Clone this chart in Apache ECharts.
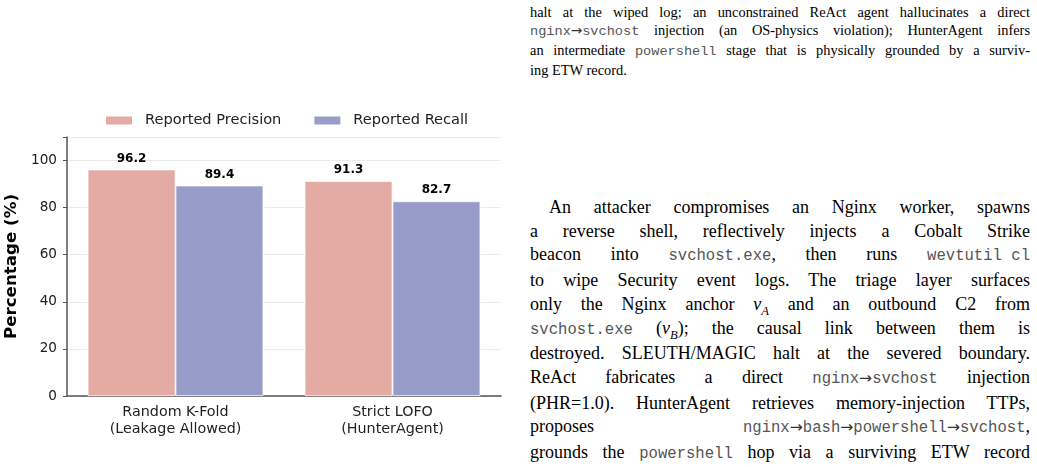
<!DOCTYPE html>
<html>
<head>
<meta charset="utf-8">
<script src="https://cdn.jsdelivr.net/npm/echarts@6/dist/echarts.min.js"></script>
<style>
  html, body { margin: 0; padding: 0; background: #fff; overflow: hidden; }
  body { width: 1037px; height: 467px; position: relative; }
  #chart { position: absolute; left: 0; top: 0; width: 520px; height: 467px; }
  .col { position: absolute; left: 530px; width: 500px; font-family: "Liberation Serif", serif; color: #000; }
  .col .ln { white-space: nowrap; text-align: justify; text-align-last: justify; }
  .col .ln.last { text-align-last: left; }
  .cap { top: 3px; font-size: 14.4px; line-height: 18px; }
  .body { top: 196px; font-size: 18px; line-height: 23.7px; }
  .mono { font-family: "Liberation Mono", monospace; color: #555; }
  .ib { display: inline-block; white-space: pre; }
  .cap .mono { font-size: 13.6px; }
  .body .mono { font-size: 15.6px; }
  .arr { font-family: "DejaVu Sans", sans-serif; color: #333; }
  sub { font-size: 70%; line-height: 0; }
</style>
</head>
<body>
<div id="chart"></div>

<div class="col cap">
  <div class="ln">halt at the wiped log; an unconstrained ReAct agent hallucinates a direct</div>
  <div class="ln"><span class="mono">nginx<span class="arr">&rarr;</span>svchost</span> injection (an OS-physics violation); HunterAgent infers</div>
  <div class="ln">an intermediate <span class="mono">powershell</span> stage that is physically grounded by a surviv-</div>
  <div class="ln last">ing ETW record.</div>
</div>

<div class="col body">
  <div class="ln" style="padding-left:19px">An attacker compromises an Nginx worker, spawns</div>
  <div class="ln">a reverse shell, reflectively injects a Cobalt Strike</div>
  <div class="ln">beacon into <span class="mono">svchost.exe</span>, then runs <span class="mono ib">wevtutil cl</span></div>
  <div class="ln">to wipe Security event logs. The triage layer surfaces</div>
  <div class="ln">only the Nginx anchor <i>v</i><sub><i>A</i></sub> and an outbound C2 from</div>
  <div class="ln"><span class="mono">svchost.exe</span> (<i>v</i><sub><i>B</i></sub>); the causal link between them is</div>
  <div class="ln">destroyed. SLEUTH/MAGIC halt at the severed boundary.</div>
  <div class="ln">ReAct fabricates a direct <span class="mono">nginx<span class="arr">&rarr;</span>svchost</span> injection</div>
  <div class="ln">(PHR=1.0). HunterAgent retrieves memory-injection TTPs,</div>
  <div class="ln">proposes <span class="mono">nginx<span class="arr">&rarr;</span>bash<span class="arr">&rarr;</span>powershell<span class="arr">&rarr;</span>svchost</span>,</div>
  <div class="ln">grounds the <span class="mono">powershell</span> hop via a surviving ETW record</div>
  <div class="ln">(El=Rm=1), and admits the remaining <span class="mono">bash</span> hop as a</div>
</div>

<script>
// data
var categories = ["Random K-Fold\n(Leakage Allowed)", "Strict LOFO\n(HunterAgent)"];
var precision = [96.2, 91.3];
var recall = [89.4, 82.7];
var yTicks = [0, 20, 40, 60, 80, 100];

var myChart = echarts.init(document.getElementById("chart"));
var font = "DejaVu Sans";
var valueLabel = {
  show: true,
  position: "top",
  distance: 5,
  fontSize: 12,
  fontWeight: "bold",
  color: "#000",
  fontFamily: font,
  formatter: function (p) {
    return p.value.toFixed(1);
  }
};
var option = {
  animation: false,
  color: ["#E4ABA5", "#989CC9"],
  textStyle: { fontFamily: font },
  legend: {
    data: ["Reported Precision", "Reported Recall"],
    left: 104,
    top: 113,
    padding: 0,
    itemWidth: 28,
    itemHeight: 10,
    itemGap: 31,
    icon: "rect",
    textStyle: { fontSize: 14.6, color: "#222", fontFamily: font, padding: [0, 0, 0, 7] }
  },
  grid: {
    left: 67,
    top: 137,
    width: 434,
    height: 259,
    containLabel: false,
    outerBoundsMode: "none"
  },
  xAxis: {
    type: "category",
    data: categories,
    axisLine: { lineStyle: { color: "#555", width: 1.5 } },
    axisTick: { alignWithLabel: true, length: 4, lineStyle: { color: "#555" } },
    axisLabel: { fontSize: 14.3, color: "#222", lineHeight: 17, margin: 8, fontFamily: font }
  },
  yAxis: {
    type: "value",
    min: 0,
    max: 110,
    interval: 20,
    name: "Percentage (%)",
    nameLocation: "middle",
    nameGap: 41,
    nameTextStyle: { fontSize: 16.7, fontWeight: "bold", color: "#000", fontFamily: font },
    axisLine: { show: true, lineStyle: { color: "#555", width: 1.5 } },
    axisTick: { show: true, length: 4, lineStyle: { color: "#555" } },
    axisLabel: {
      fontSize: 13.6, color: "#222", margin: 10, fontFamily: font,
      formatter: function (v) { return yTicks.indexOf(v) >= 0 ? v : ""; }
    },
    splitLine: { show: true, lineStyle: { color: "#ebebeb", width: 1 } }
  },
  series: [
    {
      name: "Reported Precision",
      type: "bar",
      data: precision,
      barGap: "0%",
      barCategoryGap: "19%",
      itemStyle: { borderColor: "#fff", borderWidth: 0.8 },
      label: valueLabel
    },
    {
      name: "Reported Recall",
      type: "bar",
      data: recall,
      itemStyle: { borderColor: "#fff", borderWidth: 0.8 },
      label: valueLabel
    }
  ]
};
myChart.setOption(option);
window.addEventListener("resize", function () {
  myChart.resize();
});
</script>
</body>
</html>
